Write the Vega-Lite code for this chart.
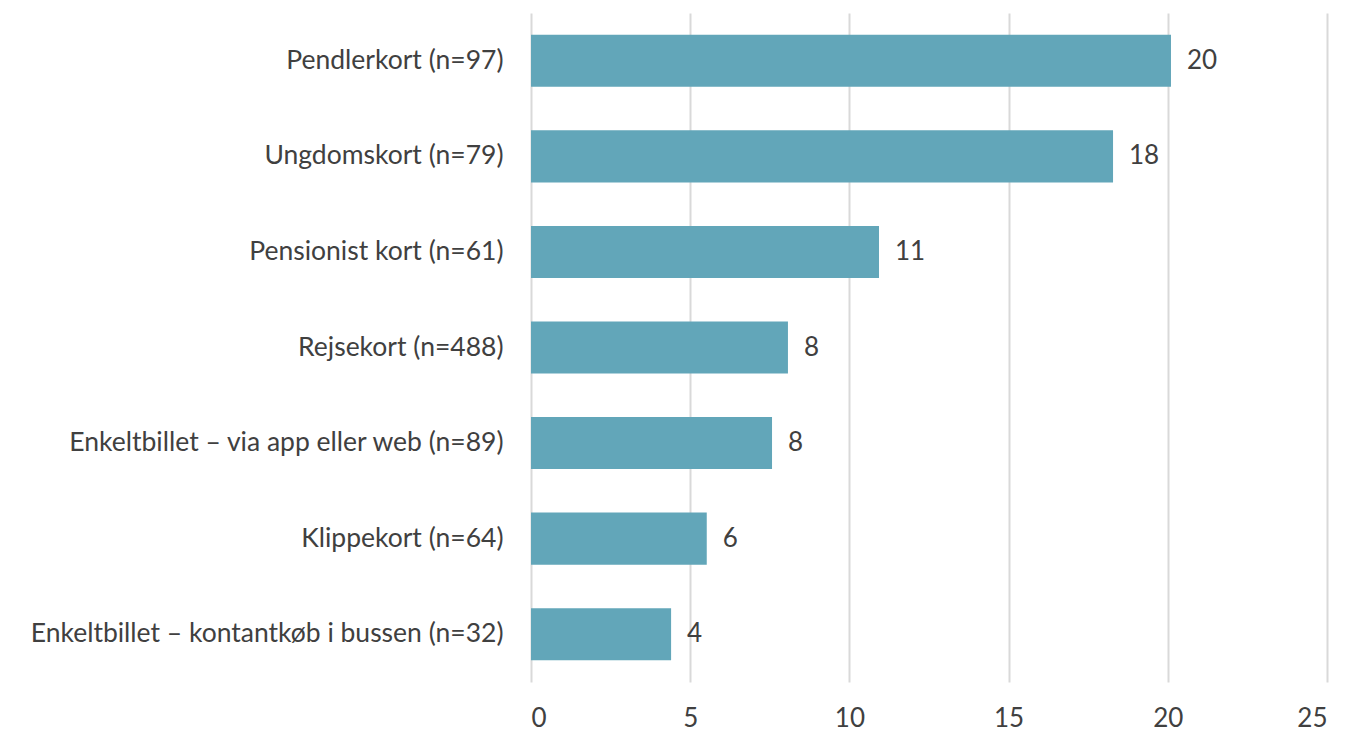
{
  "$schema": "https://vega.github.io/schema/vega-lite/v6.json",
  "autosize": "none",
  "width": 796,
  "height": 669,
  "padding": {"left": 531, "top": 13, "right": 19, "bottom": 49},
  "background": "#ffffff",
  "config": {"view": {"stroke": null}, "font": "Lato"},
  "data": {
    "values": [
      {"category": "Pendlerkort (n=97)", "value": 20.1},
      {"category": "Ungdomskort (n=79)", "value": 18.28},
      {"category": "Pensionist kort (n=61)", "value": 10.93},
      {"category": "Rejsekort (n=488)", "value": 8.07},
      {"category": "Enkeltbillet – via app eller web (n=89)", "value": 7.57},
      {"category": "Klippekort (n=64)", "value": 5.52},
      {"category": "Enkeltbillet – kontantkøb i bussen (n=32)", "value": 4.4}
    ]
  },
  "encoding": {
    "y": {
      "field": "category",
      "type": "nominal",
      "sort": null,
      "scale": {"paddingInner": 0.455, "paddingOuter": 0.2275},
      "axis": {
        "title": null,
        "domain": false,
        "ticks": false,
        "labelPadding": 28,
        "labelFontSize": 26.5,
        "labelColor": "#404040",
        "labelFont": "Lato",
        "labelLimit": 600
      }
    },
    "x": {
      "field": "value",
      "type": "quantitative",
      "scale": {"domain": [0, 25], "nice": false},
      "axis": {
        "title": null,
        "values": [0, 5, 10, 15, 20, 25],
        "domain": false,
        "ticks": false,
        "grid": true,
        "gridColor": "#d9d9d9",
        "gridWidth": 2,
        "labelPadding": 23,
        "labelFontSize": 26,
        "labelColor": "#404040",
        "labelFont": "Lato"
      }
    }
  },
  "layer": [
    {"mark": {"type": "bar", "color": "#62a6b9"}},
    {
      "mark": {"type": "text", "align": "left", "baseline": "middle", "dx": 16, "fontSize": 26, "color": "#404040", "font": "Lato"},
      "encoding": {"text": {"field": "value", "type": "quantitative", "format": ".0f"}}
    }
  ]
}
